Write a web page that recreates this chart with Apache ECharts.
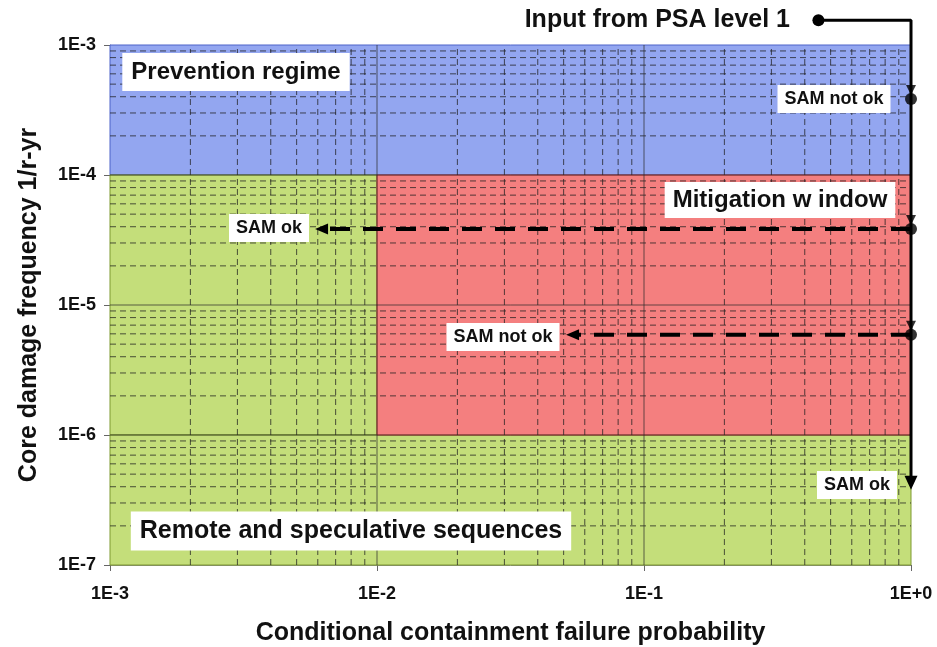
<!DOCTYPE html>
<html>
<head>
<meta charset="utf-8">
<script src="https://cdn.jsdelivr.net/npm/echarts@6/dist/echarts.min.js"></script>
<style>
  html, body { margin: 0; padding: 0; background: #fff; }
  #chart { width: 937px; height: 647px; }
</style>
</head>
<body>
<div id="chart"></div>
<script>
// axis decades
const xDecades = [1e-3, 1e-2, 1e-1, 1];
const yDecades = [1e-7, 1e-6, 1e-5, 1e-4, 1e-3];
const minorSteps = [2, 3, 4, 5, 6, 7, 8, 9];

// regions [xFrom, xTo, yFrom, yTo]
const prevention = [1e-3, 1, 1e-4, 1e-3];
const mitigation = [1e-2, 1, 1e-6, 1e-4];
const remoteLow = [1e-3, 1, 1e-7, 1e-6];
const remoteLeft = [1e-3, 1e-2, 1e-6, 1e-4];

// decision path
const inputX = 0.45;
const inputY = 1.55e-3;
const pathX = 1;
const checkY = [3.85e-4, 3.85e-5, 5.9e-6];
const endY = 4.3e-7;
const samOkX = 6.2e-3;      // arrow tip for "SAM ok"
const samNotOkX = 0.054;    // arrow tip for "SAM not ok"

const FONT = '"Liberation Sans", Arial, sans-serif';
const X0 = xDecades[0], X1 = xDecades[xDecades.length - 1];
const Y0 = yDecades[0], Y1 = yDecades[yDecades.length - 1];

function fmtExp(v) {
  const e = Math.round(Math.log10(v));
  return '1E' + (e >= 0 ? '+' : '-') + Math.abs(e);
}

function minorValues(decades) {
  const out = [];
  for (let i = 0; i < decades.length - 1; i++) {
    minorSteps.forEach((s) => out.push(decades[i] * s));
  }
  return out;
}

// vertical / horizontal grid segments separated by gaps
function vLines(vals) {
  const d = [];
  vals.forEach((v) => { d.push([v, Y0], [v, Y1], null); });
  return d;
}
function hLines(vals) {
  const d = [];
  vals.forEach((v) => { d.push([X0, v], [X1, v], null); });
  return d;
}

function areaItem(r, color, border) {
  return [
    { coord: [r[0], r[2]], itemStyle: { color: color, borderColor: border, borderWidth: 1 } },
    { coord: [r[1], r[3]] },
  ];
}

function gridSeries(data, style) {
  return {
    type: 'line',
    z: 2,
    silent: true,
    showSymbol: false,
    symbol: 'none',
    connectNulls: false,
    lineStyle: style,
    data: data,
  };
}

function label(text, x, y, size, pad) {
  return {
    type: 'text',
    x: x,
    y: y,
    z: 100,
    style: {
      text: text,
      font: 'bold ' + size + 'px ' + FONT,
      fill: '#111',
      align: 'center',
      verticalAlign: 'middle',
      backgroundColor: '#fff',
      padding: pad,
    },
  };
}

const chart = echarts.init(document.getElementById('chart'));

const minorStyle = { color: 'rgba(30,30,30,0.75)', type: [6, 4], width: 1 };
const majorStyle = { color: 'rgba(40,40,40,0.7)', type: 'solid', width: 1 };

const option = {
  animation: false,
  backgroundColor: '#fff',
  grid: { left: 110, right: 26, top: 45, bottom: 82, outerBoundsMode: 'none', containLabel: false },
  xAxis: {
    type: 'log',
    logBase: 10,
    min: X0,
    max: X1,
    name: 'Conditional containment failure probability',
    nameLocation: 'middle',
    nameGap: 56,
    nameTextStyle: { fontFamily: FONT, fontWeight: 'bold', fontSize: 25, color: '#111' },
    axisLine: { show: true, lineStyle: { color: '#888' } },
    axisTick: { show: true, length: 6, lineStyle: { color: '#666' } },
    axisLabel: { formatter: fmtExp, fontFamily: FONT, fontWeight: 'bold', fontSize: 18, color: '#111', margin: 20 },
    splitLine: { show: false },
  },
  yAxis: {
    type: 'log',
    logBase: 10,
    min: Y0,
    max: Y1,
    name: 'Core damage frequency 1/r-yr',
    nameLocation: 'middle',
    nameGap: 68,
    nameTextStyle: { fontFamily: FONT, fontWeight: 'bold', fontSize: 25, color: '#111' },
    axisLine: { show: true, lineStyle: { color: '#888' } },
    axisTick: { show: true, length: 6, lineStyle: { color: '#666' } },
    axisLabel: { formatter: fmtExp, fontFamily: FONT, fontWeight: 'bold', fontSize: 18, color: '#111', margin: 14 },
    splitLine: { show: false },
  },
  series: [
    {
      // regions
      type: 'line',
      z: 1,
      data: [],
      silent: true,
      markArea: {
        silent: true,
        data: [
          areaItem(prevention, '#93a6f0', '#4c63c8'),
          areaItem(remoteLeft, '#c4de7a', '#7f9a30'),
          areaItem(remoteLow, '#c4de7a', '#7f9a30'),
          areaItem(mitigation, '#f47f7f', '#c83a3a'),
        ],
      },
    },
    gridSeries(vLines(minorValues(xDecades)), minorStyle),
    gridSeries(hLines(minorValues(yDecades)), minorStyle),
    gridSeries(vLines(xDecades.slice(1, -1)), majorStyle),
    gridSeries(hLines(yDecades.slice(1, -1)), majorStyle),
    {
      // input path
      type: 'line',
      z: 5,
      clip: false,
      silent: true,
      lineStyle: { color: '#000', width: 3 },
      data: [
        { value: [inputX, inputY], symbol: 'circle', symbolSize: 12 },
        { value: [pathX, inputY], symbol: 'none' },
        { value: [pathX, endY], symbol: 'triangle', symbolSize: [13, 14], symbolRotate: 180 },
      ],
      itemStyle: { color: '#000' },
      showSymbol: true,
    },
    {
      // SAM ok dashed arrow
      type: 'line',
      z: 5,
      clip: false,
      silent: true,
      lineStyle: { color: '#000', width: 4, type: [20, 13] },
      itemStyle: { color: '#000' },
      data: [
        { value: [pathX, checkY[1]], symbol: 'none' },
        { value: [samOkX, checkY[1]], symbol: 'triangle', symbolSize: [11, 13], symbolRotate: 90 },
      ],
    },
    {
      // SAM not ok dashed arrow
      type: 'line',
      z: 5,
      clip: false,
      silent: true,
      lineStyle: { color: '#000', width: 4, type: [20, 13] },
      itemStyle: { color: '#000' },
      data: [
        { value: [pathX, checkY[2]], symbol: 'none' },
        { value: [samNotOkX, checkY[2]], symbol: 'triangle', symbolSize: [11, 13], symbolRotate: 90 },
      ],
    },
    {
      // arrowheads above the checkpoints
      type: 'scatter',
      z: 6,
      clip: false,
      silent: true,
      symbol: 'triangle',
      symbolRotate: 180,
      symbolSize: [10, 10],
      symbolOffset: [0, -9],
      itemStyle: { color: '#000' },
      data: checkY.map((y) => [pathX, y]),
    },
    {
      // checkpoint dots
      type: 'scatter',
      z: 7,
      clip: false,
      silent: true,
      symbol: 'circle',
      symbolSize: 12,
      itemStyle: { color: '#000' },
      data: checkY.map((y) => [pathX, y]),
    },
  ],
  graphic: [
    { type: 'text', x: 790, y: 20, z: 100, style: { text: 'Input from PSA level 1', font: 'bold 25px ' + FONT, fill: '#111', align: 'right', verticalAlign: 'middle' } },
    label('Prevention regime', 236, 72, 24, [7, 9, 7, 9]),
    label('Mitigation w indow', 780, 200, 24, [6, 8, 6, 8]),
    label('Remote and speculative sequences', 351, 531, 25, [7, 9, 7, 9]),
    label('SAM not ok', 834, 99, 18, [5, 7, 5, 7]),
    label('SAM ok', 269, 228, 18, [5, 7, 5, 7]),
    label('SAM not ok', 503, 337, 18, [5, 7, 5, 7]),
    label('SAM ok', 857, 485, 18, [5, 7, 5, 7]),
  ],
};

chart.setOption(option);
</script>
</body>
</html>
